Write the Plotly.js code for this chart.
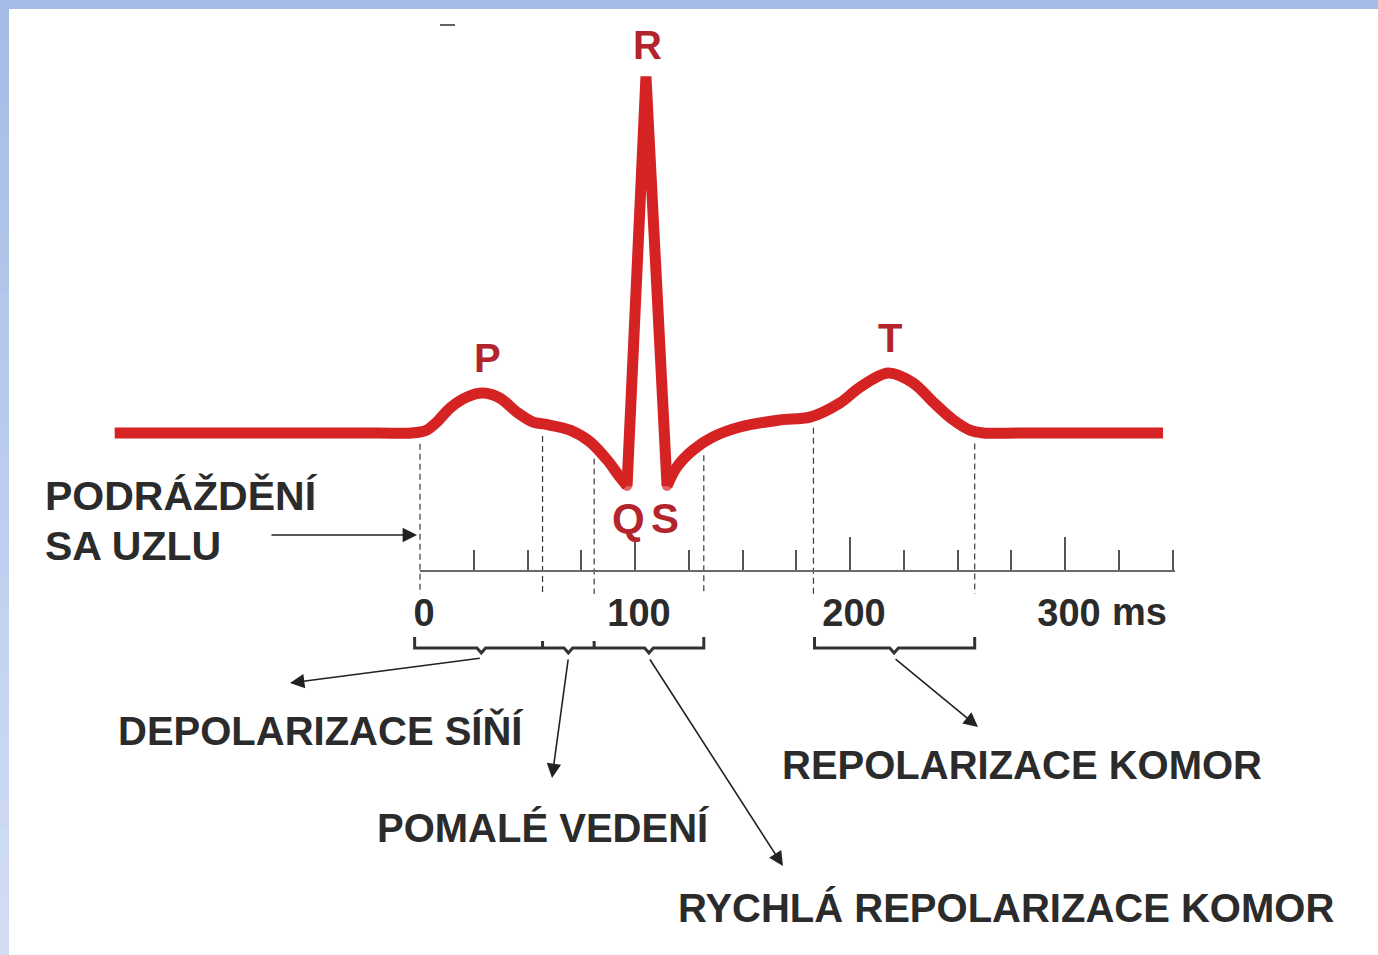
<!DOCTYPE html>
<html>
<head>
<meta charset="utf-8">
<script src="https://cdn.plot.ly/plotly-3.0.1.min.js"></script>
<style>
html,body{margin:0;padding:0;background:#fff;overflow:hidden;}
#chart{width:1378px;height:955px;}
</style>
</head>
<body>
<div id="chart"></div>
<script>
// ---------------- DATA ----------------
// ECG trace: time (ms) and relative amplitude (R peak ~ 1)
const ecgMs = [-142, -20, -4, 3.0, 8.0, 14.0, 21.9, 29.3, 37.2, 45.1, 52.6, 58.1, 69.8, 79.1, 87.0, 93.0, 96.3,
               105.1,
               114.9, 119.5, 127.0, 136.3, 148.8, 167.4, 181.4, 195.3, 204.7, 217.7, 229.3, 238.6, 248.0, 255.8, 262, 280, 345.6];
const ecgMv = [0, 0, 0, 0.008, 0.032, 0.071, 0.102, 0.113, 0.099, 0.059, 0.031, 0.025, 0.008, -0.025, -0.076, -0.125, -0.150,
               1.01,
               -0.150, -0.096, -0.048, -0.011, 0.017, 0.037, 0.045, 0.085, 0.130, 0.170, 0.142, 0.088, 0.037, 0.008, 0, 0, 0];
const qIndex = 16, sIndex = 18;

// wave labels
const waveLabels = ["P", "Q", "R", "S", "T"];

// phase boundaries (ms) marked by dashed lines
const boundaries = [0, 57, 81, 132, 183, 258];
const bracketGroups = [[0, 57, 81, 132], [183, 258]];

// time axis
const axisRange = [0, 351];
const majorTicks = [0, 100, 200, 300];
const majorTickText = ["0", "100", "200", "300"];
const minorStep = 25;
const unitLabel = "ms";

// phase texts
const phaseTexts = ["PODRÁŽDĚNÍ", "SA UZLU", "DEPOLARIZACE SÍŇÍ", "POMALÉ VEDENÍ",
                    "RYCHLÁ REPOLARIZACE KOMOR", "REPOLARIZACE KOMOR"];

// ---------------- LAYOUT HELPERS ----------------
const W = 1378, H = 955;
const X0 = 420, PXMS = 2.15;   // px of 0 ms, px per ms
const Y0 = 433, PXMV = 353;    // px of baseline, px per unit
const pxX = px => (px - X0) / PXMS;
const pxY = py => (Y0 - py) / PXMV;

const RED = '#d52323', LRED = '#b3242c', INK = '#2b2b2b';
const FONT = 'Liberation Sans, Arial, sans-serif';

function interp(x) {
  for (let i = 0; i < ecgMs.length - 1; i++) {
    if (x >= ecgMs[i] && x <= ecgMs[i + 1]) {
      const t = (x - ecgMs[i]) / (ecgMs[i + 1] - ecgMs[i]);
      return ecgMv[i] + t * (ecgMv[i + 1] - ecgMv[i]);
    }
  }
  return 0;
}

// ---------------- TRACES ----------------
const traces = [];
const ecgLine = {color: RED, width: 11};
traces.push({x: ecgMs.slice(0, qIndex + 1), y: ecgMv.slice(0, qIndex + 1), mode: 'lines',
  line: Object.assign({shape: 'spline', smoothing: 0.9}, ecgLine), hoverinfo: 'skip'});
traces.push({x: ecgMs.slice(qIndex, sIndex + 1), y: ecgMv.slice(qIndex, sIndex + 1), mode: 'lines+markers',
  line: Object.assign({shape: 'linear'}, ecgLine), marker: {color: RED, size: [10, 0, 10], line: {width: 0}}, hoverinfo: 'skip'});
traces.push({x: ecgMs.slice(sIndex), y: ecgMv.slice(sIndex), mode: 'lines',
  line: Object.assign({shape: 'spline', smoothing: 0.9}, ecgLine), hoverinfo: 'skip'});

// dashed boundary lines
const dx = [], dy = [];
boundaries.forEach(b => {
  dx.push(b, b, null);
  dy.push(interp(b) - 0.035, pxY(594), null);
});
traces.push({x: dx, y: dy, mode: 'lines', line: {color: '#3a3a3a', width: 1.2, dash: '6px,4px'}, hoverinfo: 'skip'});

// brackets
const bLine = pxY(648), bCap = pxY(637), bDip = pxY(653), bBump = pxY(641);
bracketGroups.forEach((g, gi) => {
  const bx = [], by = [];
  const off = gi === 0 ? -2.5 : 0.5;
  bx.push(g[0] + off, g[0] + off); by.push(bCap, bLine);
  for (let i = 0; i < g.length - 1; i++) {
    const mid = (g[i] + g[i + 1]) / 2;
    bx.push(mid - 2, mid, mid + 2); by.push(bLine, bDip, bLine);
    const end = g[i + 1];
    if (i < g.length - 2) {
      bx.push(end, end, end); by.push(bLine, bBump, bLine);
    } else {
      bx.push(end, end); by.push(bLine, bCap);
    }
  }
  traces.push({x: bx, y: by, mode: 'lines', line: {color: '#333', width: 3}, hoverinfo: 'skip'});
});

// invisible anchor trace for the time axis
traces.push({x: majorTicks, y: majorTicks.map(() => 0), xaxis: 'x2', yaxis: 'y', mode: 'markers',
  marker: {opacity: 0}, hoverinfo: 'skip'});

// ---------------- ANNOTATIONS ----------------
const ann = [];
function label(text, left, cy, size, color, anchor) {
  ann.push({text: '<b>' + text + '</b>', x: pxX(left), y: pxY(cy), xref: 'x', yref: 'y',
    xanchor: anchor || 'left', yanchor: 'middle', showarrow: false,
    font: {family: FONT, size: size, color: color}});
}
// wave letters
label(waveLabels[0], 487, 358, 40, LRED, 'center');
label(waveLabels[1], 628, 518, 42, LRED, 'center');
label(waveLabels[2], 647, 45, 40, LRED, 'center');
label(waveLabels[3], 665, 518, 42, LRED, 'center');
label(waveLabels[4], 890, 338, 40, LRED, 'center');

// phase texts
label(phaseTexts[0], 43, 496, 41, INK);
label(phaseTexts[1], 43, 546, 41, INK);
label(phaseTexts[2], 116, 730, 40, INK);
label(phaseTexts[3], 375, 828, 40, INK);
label(phaseTexts[4], 676, 908, 40, INK);
label(phaseTexts[5], 780, 765, 40, INK);
label(unitLabel, 1110, 612, 38, INK);

// arrows
function arrow(tx, ty, hx, hy) {
  ann.push({text: '', x: hx, y: hy, ax: tx, ay: ty, xref: 'x', yref: 'y', axref: 'x', ayref: 'y',
    showarrow: true, arrowhead: 2, arrowsize: 1.8, arrowwidth: 1.6, arrowcolor: '#222', standoff: 0, startstandoff: 0});
}
const tailY = pxY(658);
arrow(pxX(270), pxY(535), pxX(417), pxY(535));
arrow((bracketGroups[0][0] + bracketGroups[0][1]) / 2, tailY, pxX(290), pxY(683));
arrow((bracketGroups[0][1] + bracketGroups[0][2]) / 2, tailY, pxX(552), pxY(778));
arrow((bracketGroups[0][2] + bracketGroups[0][3]) / 2, tailY, pxX(783), pxY(866));
arrow((bracketGroups[1][0] + bracketGroups[1][1]) / 2, tailY, pxX(978), pxY(727));

// ---------------- BORDER SHAPES ----------------
const shapes = [];
shapes.push({type: 'rect', xref: 'paper', yref: 'paper', x0: 0, x1: 1, y0: 1 - 9 / H, y1: 1,
  fillcolor: '#a5bce7', line: {width: 0}, layer: 'below'});
const steps = 30;
for (let i = 0; i < steps; i++) {
  const t = i / (steps - 1);
  const r = Math.round(165 + t * (210 - 165)), g = Math.round(188 + t * (221 - 188)), b = Math.round(231 + t * (244 - 231));
  const y1 = 1 - 9 / H - i * (1 - 9 / H) / steps, y0 = 1 - 9 / H - (i + 1) * (1 - 9 / H) / steps;
  shapes.push({type: 'rect', xref: 'paper', yref: 'paper', x0: 0, x1: 9 / W, y0: y0, y1: y1 + 0.001,
    fillcolor: `rgb(${r},${g},${b})`, line: {width: 0}, layer: 'below'});
}
// small dark mark near the top edge of the original
shapes.push({type: 'line', xref: 'paper', yref: 'paper', x0: 440 / W, x1: 455 / W, y0: 1 - 25 / H, y1: 1 - 25 / H,
  line: {color: '#3a2a2a', width: 1.5}});

// ---------------- LAYOUT ----------------
const layout = {
  width: W, height: H, margin: {l: 0, r: 0, t: 0, b: 0, pad: 0},
  paper_bgcolor: '#ffffff', plot_bgcolor: 'rgba(0,0,0,0)', showlegend: false, hovermode: false,
  xaxis: {range: [pxX(0), pxX(W)], visible: false, fixedrange: true},
  yaxis: {range: [pxY(H), pxY(0)], visible: false, fixedrange: true},
  xaxis2: {
    domain: [X0 / W, (X0 + axisRange[1] * PXMS) / W], range: axisRange, anchor: 'free', position: 1 - 571 / H,
    showline: true, linecolor: '#6a6a6a', linewidth: 2, showgrid: false, zeroline: false, fixedrange: true,
    ticks: 'inside', ticklen: 33, tickwidth: 2, tickcolor: '#555',
    tickmode: 'array', tickvals: majorTicks, ticktext: majorTickText.map(t => '<b>' + t + '</b>'),
    tickfont: {family: FONT, size: 38, color: INK}, ticklabelshift: 4, ticklabelstandoff: 8,
    minor: {tickmode: 'linear', tick0: 0, dtick: minorStep, ticks: 'inside', ticklen: 20, tickwidth: 2, tickcolor: '#555', showgrid: false}
  },
  annotations: ann, shapes: shapes
};

Plotly.newPlot('chart', traces, layout, {displayModeBar: false, staticPlot: true});
</script>
</body>
</html>
